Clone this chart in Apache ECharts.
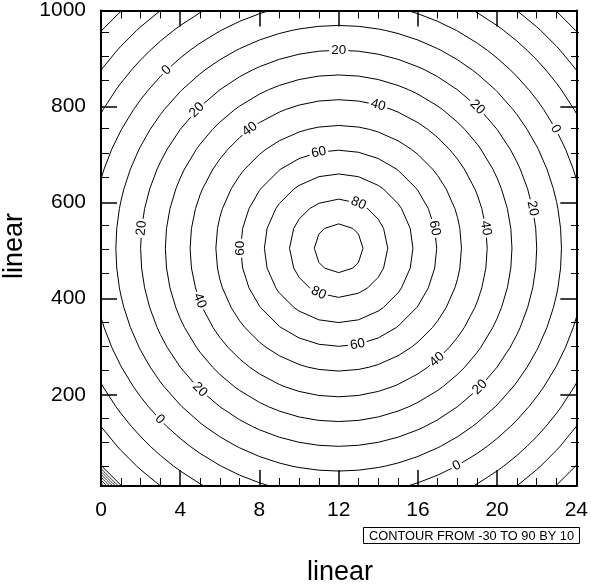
<!DOCTYPE html>
<html><head><meta charset="utf-8">
<script src="https://cdn.jsdelivr.net/npm/echarts@6/dist/echarts.min.js"></script>
<style>html,body{margin:0;padding:0;background:#fff}#c{width:591px;height:584px}</style>
</head><body><div id="c"></div>
<script>
// ---- data ----
const xTicks = [0, 4, 8, 12, 16, 20, 24];
const yTicks = [200, 400, 600, 800, 1000];
const yMinorTicks = [50, 100, 150, 250, 300, 350, 450, 500, 550, 650, 700, 750, 850, 900, 950];
const levels = [-30, -20, -10, 0, 10, 20, 30, 40, 50, 60, 70, 80, 90];
// contour radius of each level, in x-axis units (the field is round in the plot's square frame)
const radii = [16.25, 15.0, 13.8, 12.5, 11.25, 10.0, 8.75, 7.5, 6.2, 4.95, 3.75, 2.48, 1.23];
const centerX = 12, centerY = 505;
// contour labels: level and position angle on its contour (degrees, counter-clockwise from +x)
const labelLevels = [0, 0, 0, 0, 20, 20, 20, 20, 20, 20, 20, 40, 40, 40, 40, 40, 60, 60, 60, 60, 80, 80];
const labelAngles = [134, 28.8, -136.3, -61.5, 90, 45.5, 11.6, 174.2, 135.7, -134.5, -44.5,
                     74.6, 7.8, -48.5, -159.3, 126.7, 101.7, 11.8, 180, -78.9, 66.3, -114.2];
// dense extra contours squeezed into the lower-left corner
const cornerRadii = [16.36, 16.46, 16.56, 16.66, 16.76, 16.86, 16.96];
const xMin = 0, xMax = 24, yMin = 10, yMax = 1000;

const FONT = '"Liberation Sans", Arial, Helvetica, sans-serif';

function clipRect(params) {
  const cs = params.coordSys;
  return { type: 'rect', shape: { x: cs.x, y: cs.y, width: cs.width, height: cs.height } };
}

function renderContour(params, api) {
  const lev = api.value(0), r = api.value(1);
  const c = api.coord([centerX, centerY]);
  const s = api.coord([centerX + 1, centerY])[0] - c[0];
  const R = r * s;
  const K = Math.floor(R / s);
  let pts = [];
  for (let k = -K; k <= K; k++) {
    const u = k * s;
    const v = Math.sqrt(Math.max(0, R * R - u * u));
    pts.push([u, v], [u, -v], [v, u], [-v, u]);
  }
  pts.sort((a, b) => Math.atan2(a[1], a[0]) - Math.atan2(b[1], b[0]));
  const uniq = [];
  pts.forEach(p => {
    const l = uniq[uniq.length - 1];
    if (!l || Math.hypot(l[0] - p[0], l[1] - p[1]) > 0.3) uniq.push(p);
  });
  const poly = uniq.map(p => [c[0] + p[0], c[1] - p[1]]);
  const children = [{
    type: 'polygon', shape: { points: poly }, z2: 1,
    style: { fill: 'none', stroke: '#000', lineWidth: 1 }
  }];
  labelLevels.forEach((lv, j) => {
    if (lv !== lev) return;
    const th = labelAngles[j] * Math.PI / 180;
    let d = labelAngles[j] - 90;
    while (d > 90) d -= 180;
    while (d <= -90) d += 180;
    children.push({
      type: 'text', x: c[0] + R * Math.cos(th), y: c[1] - R * Math.sin(th),
      rotation: d * Math.PI / 180, z2: 10,
      style: {
        text: String(lev), fill: '#000', fontSize: 13.5, fontFamily: FONT,
        align: 'center', verticalAlign: 'middle', backgroundColor: '#fff', padding: [0, 2]
      }
    });
  });
  return { type: 'group', clipPath: clipRect(params), children };
}

function renderCorner(params, api) {
  const r = api.value(0);
  const c = api.coord([centerX, centerY]);
  const s = api.coord([centerX + 1, centerY])[0] - c[0];
  const R = r * s;
  const pts = [];
  for (let a = 200; a <= 250; a += 0.5) {
    const th = a * Math.PI / 180;
    pts.push([c[0] + R * Math.cos(th), c[1] - R * Math.sin(th)]);
  }
  return {
    type: 'group', clipPath: clipRect(params),
    children: [{ type: 'polyline', shape: { points: pts }, style: { fill: 'none', stroke: '#333', lineWidth: 1 } }]
  };
}

const axisLine = { show: true, onZero: false, lineStyle: { color: '#000', width: 2 } };
const noLine = { show: false, onZero: false };
const gridRect = { left: 101, top: 8, width: 478, height: 478 };

function xAx(pos, labels) {
  return {
    type: 'value', gridIndex: 0, position: pos, min: xMin, max: xMax, interval: 4,
    axisLine, splitLine: { show: false },
    axisTick: { show: true, inside: true, length: 16, lineStyle: { color: '#000', width: 1.5 } },
    minorTick: { show: true, splitNumber: 4, length: 8, lineStyle: { color: '#000', width: 1 } },
    axisLabel: { show: labels, color: '#000', fontSize: 21, fontFamily: FONT, margin: 14 }
  };
}
function yAx(pos, grid, values, len, labels, line) {
  return {
    type: 'value', gridIndex: grid, position: pos, min: yMin, max: yMax,
    axisLine: line ? axisLine : noLine, splitLine: { show: false },
    axisTick: { show: true, inside: true, length: len, customValues: values,
                lineStyle: { color: '#000', width: len > 10 ? 1.5 : 1 } },
    axisLabel: { show: labels, customValues: values, color: '#000', fontSize: 21, fontFamily: FONT, margin: 15,
                 formatter: v => String(v) }
  };
}

const chart = echarts.init(document.getElementById('c'), null, { renderer: 'canvas' });
chart.setOption({
  animation: false,
  backgroundColor: '#fff',
  grid: [Object.assign({}, gridRect), Object.assign({}, gridRect)],
  xAxis: [
    xAx('bottom', true), xAx('top', false),
    { type: 'value', gridIndex: 1, min: xMin, max: xMax, show: false, axisLine: noLine }
  ],
  yAxis: [
    yAx('left', 0, yTicks, 16, true, true), yAx('right', 0, yTicks, 16, false, true),
    yAx('left', 1, yMinorTicks, 8, false, false), yAx('right', 1, yMinorTicks, 8, false, false)
  ],
  series: [
    { type: 'custom', xAxisIndex: 0, yAxisIndex: 0, renderItem: renderContour,
      data: levels.map((l, i) => [l, radii[i]]), silent: true },
    { type: 'custom', xAxisIndex: 0, yAxisIndex: 0, renderItem: renderCorner,
      data: cornerRadii.map(r => [r]), silent: true }
  ],
  graphic: [
    { type: 'text', x: 340, y: 573, style: { text: 'linear', fontSize: 27, fontFamily: FONT, fill: '#000', align: 'center', verticalAlign: 'middle' } },
    { type: 'text', x: 15, y: 246, rotation: Math.PI / 2, style: { text: 'linear', fontSize: 27, fontFamily: FONT, fill: '#000', align: 'center', verticalAlign: 'middle' } },
    { type: 'rect', shape: { x: 363.5, y: 527.5, width: 216, height: 16 }, style: { fill: '#fff', stroke: '#000', lineWidth: 1 } },
    { type: 'text', x: 471.5, y: 536, style: { text: 'CONTOUR FROM -30 TO 90 BY 10', fontSize: 12.8, fontFamily: FONT, fill: '#000', align: 'center', verticalAlign: 'middle' } }
  ]
});
</script>
</body></html>
